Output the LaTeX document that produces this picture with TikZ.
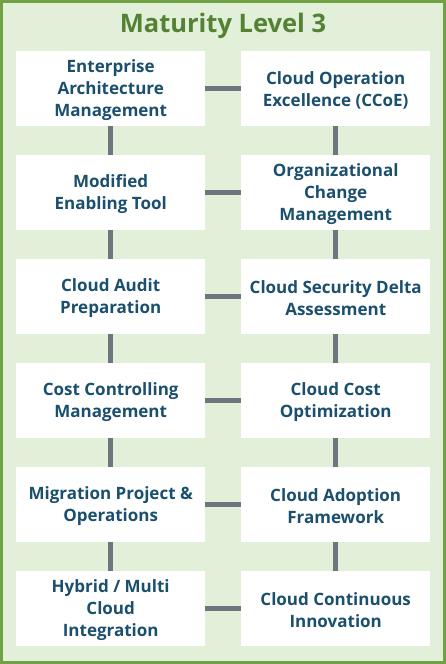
\documentclass[tikz,border=0pt]{standalone}
\usepackage{fontspec}
\setmainfont{Open Sans}
\definecolor{frame}{HTML}{70A142}
\definecolor{bg}{HTML}{E2EFD9}
\definecolor{ttl}{HTML}{548235}
\definecolor{txt}{HTML}{1A4F6E}
\definecolor{conn}{HTML}{6E757E}
\begin{document}
\begin{tikzpicture}[x=1pt,y=-1pt,
  box/.style={fill=white,draw=none,minimum width=189pt,minimum height=75pt,inner sep=0pt,anchor=north west},
  lbl/.style={align=center,text=txt,font=\fontsize{17}{22}\selectfont\bfseries,inner sep=0pt},
  link/.style={draw=conn,line width=5.5pt}]
\useasboundingbox (0,0) rectangle (446,664);
\draw[frame,fill=bg,line width=3pt] (1.5,1.5) rectangle (444.5,662.5);
\node[text=ttl,font=\fontsize{25.5}{30}\selectfont\bfseries] (title) at (223,26) {Maturity Level 3};
\node[box] (l1) at (16,51) {};
\node[box] (l2) at (16,155) {};
\node[box] (l3) at (16,259) {};
\node[box] (l4) at (16,363) {};
\node[box] (l5) at (16,467) {};
\node[box] (l6) at (16,571) {};
\node[box] (r1) at (241,51) {};
\node[box] (r2) at (241,155) {};
\node[box] (r3) at (241,259) {};
\node[box] (r4) at (241,363) {};
\node[box] (r5) at (241,467) {};
\node[box] (r6) at (241,571) {};
\node[lbl] (tl1) at ([yshift=-1.5pt]l1.center) {Enterprise\\Architecture\\Management};
\node[lbl] (tl2) at ([yshift=-1.5pt]l2.center) {Modified\\Enabling Tool};
\node[lbl] (tl3) at ([yshift=-1.5pt]l3.center) {Cloud Audit\\Preparation};
\node[lbl] (tl4) at ([yshift=-1.5pt]l4.center) {Cost Controlling\\Management};
\node[lbl] (tl5) at ([yshift=-1.5pt]l5.center) {Migration Project \&\\Operations};
\node[lbl] (tl6) at ([yshift=-1.5pt]l6.center) {Hybrid / Multi\\Cloud\\Integration};
\node[lbl] (tr1) at ([yshift=-1.5pt]r1.center) {Cloud Operation\\Excellence (CCoE)};
\node[lbl] (tr2) at ([yshift=-1.5pt]r2.center) {Organizational\\Change\\Management};
\node[lbl] (tr3) at ([yshift=-1.5pt]r3.center) {Cloud Security Delta\\Assessment};
\node[lbl] (tr4) at ([yshift=-1.5pt]r4.center) {Cloud Cost\\Optimization};
\node[lbl] (tr5) at ([yshift=-1.5pt]r5.center) {Cloud Adoption\\Framework};
\node[lbl] (tr6) at ([yshift=-1.5pt]r6.center) {Cloud Continuous\\Innovation};
\foreach \i/\j in {1/2,2/3,3/4,4/5,5/6}{
  \draw[link] (l\i.south) -- (l\j.north);
  \draw[link] (r\i.south) -- (r\j.north);
}
\foreach \i in {1,...,6}{
  \draw[link] (l\i.east) -- (r\i.west);
}
\end{tikzpicture}
\end{document}
